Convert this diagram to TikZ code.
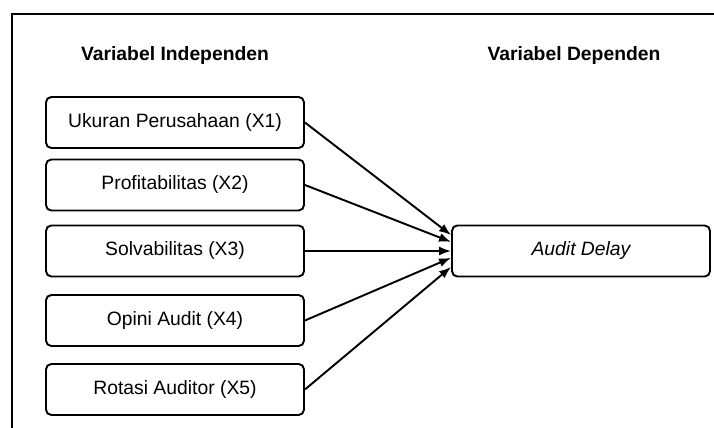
\documentclass[tikz,border=0pt]{standalone}
\usepackage{fontspec}
\setmainfont{Liberation Sans}
\usetikzlibrary{arrows.meta}

\tikzset{
  varbox/.style={draw, line width=1.1pt, rounded corners=3pt, minimum width=5.16cm,
    minimum height=1.02cm, inner sep=0pt, font=\fontsize{11}{13}\selectfont},
  heading/.style={font=\fontsize{11}{13}\selectfont\bfseries},
  link/.style={line width=1.1pt, -{Latex[length=2.4mm,width=1.8mm]}}
}

\begin{document}
\begin{tikzpicture}[x=0.02cm, y=-0.02cm]
\useasboundingbox (0,0) rectangle (714,428);

% Frame
\draw[line width=1.1pt] (12,428) -- (12,14) -- (714,14);

% Headings
\node[heading] (hind) at (175,56) {Variabel Independen};
\node[heading] (hdep) at (574,56) {Variabel Dependen};

% Independent variables
\node[varbox] (x1) at (175,122.5) {Ukuran Perusahaan (X1)};
\node[varbox] (x2) at (175,185) {Profitabilitas (X2)};
\node[varbox] (x3) at (175,251) {Solvabilitas (X3)};
\node[varbox] (x4) at (175,320.5) {Opini Audit (X4)};
\node[varbox] (x5) at (175,389.5) {Rotasi Auditor (X5)};

% Dependent variable
\node[varbox] (ad) at (581,251) {\itshape Audit Delay};

% Arrows
\draw[link] (x1.east) -- (ad.173);
\draw[link] (x2.east) -- (ad.176.5);
\draw[link] (x3.east) -- (ad.west);
\draw[link] (x4.east) -- (ad.183.5);
\draw[link] (x5.east) -- (ad.187);

\end{tikzpicture}
\end{document}
